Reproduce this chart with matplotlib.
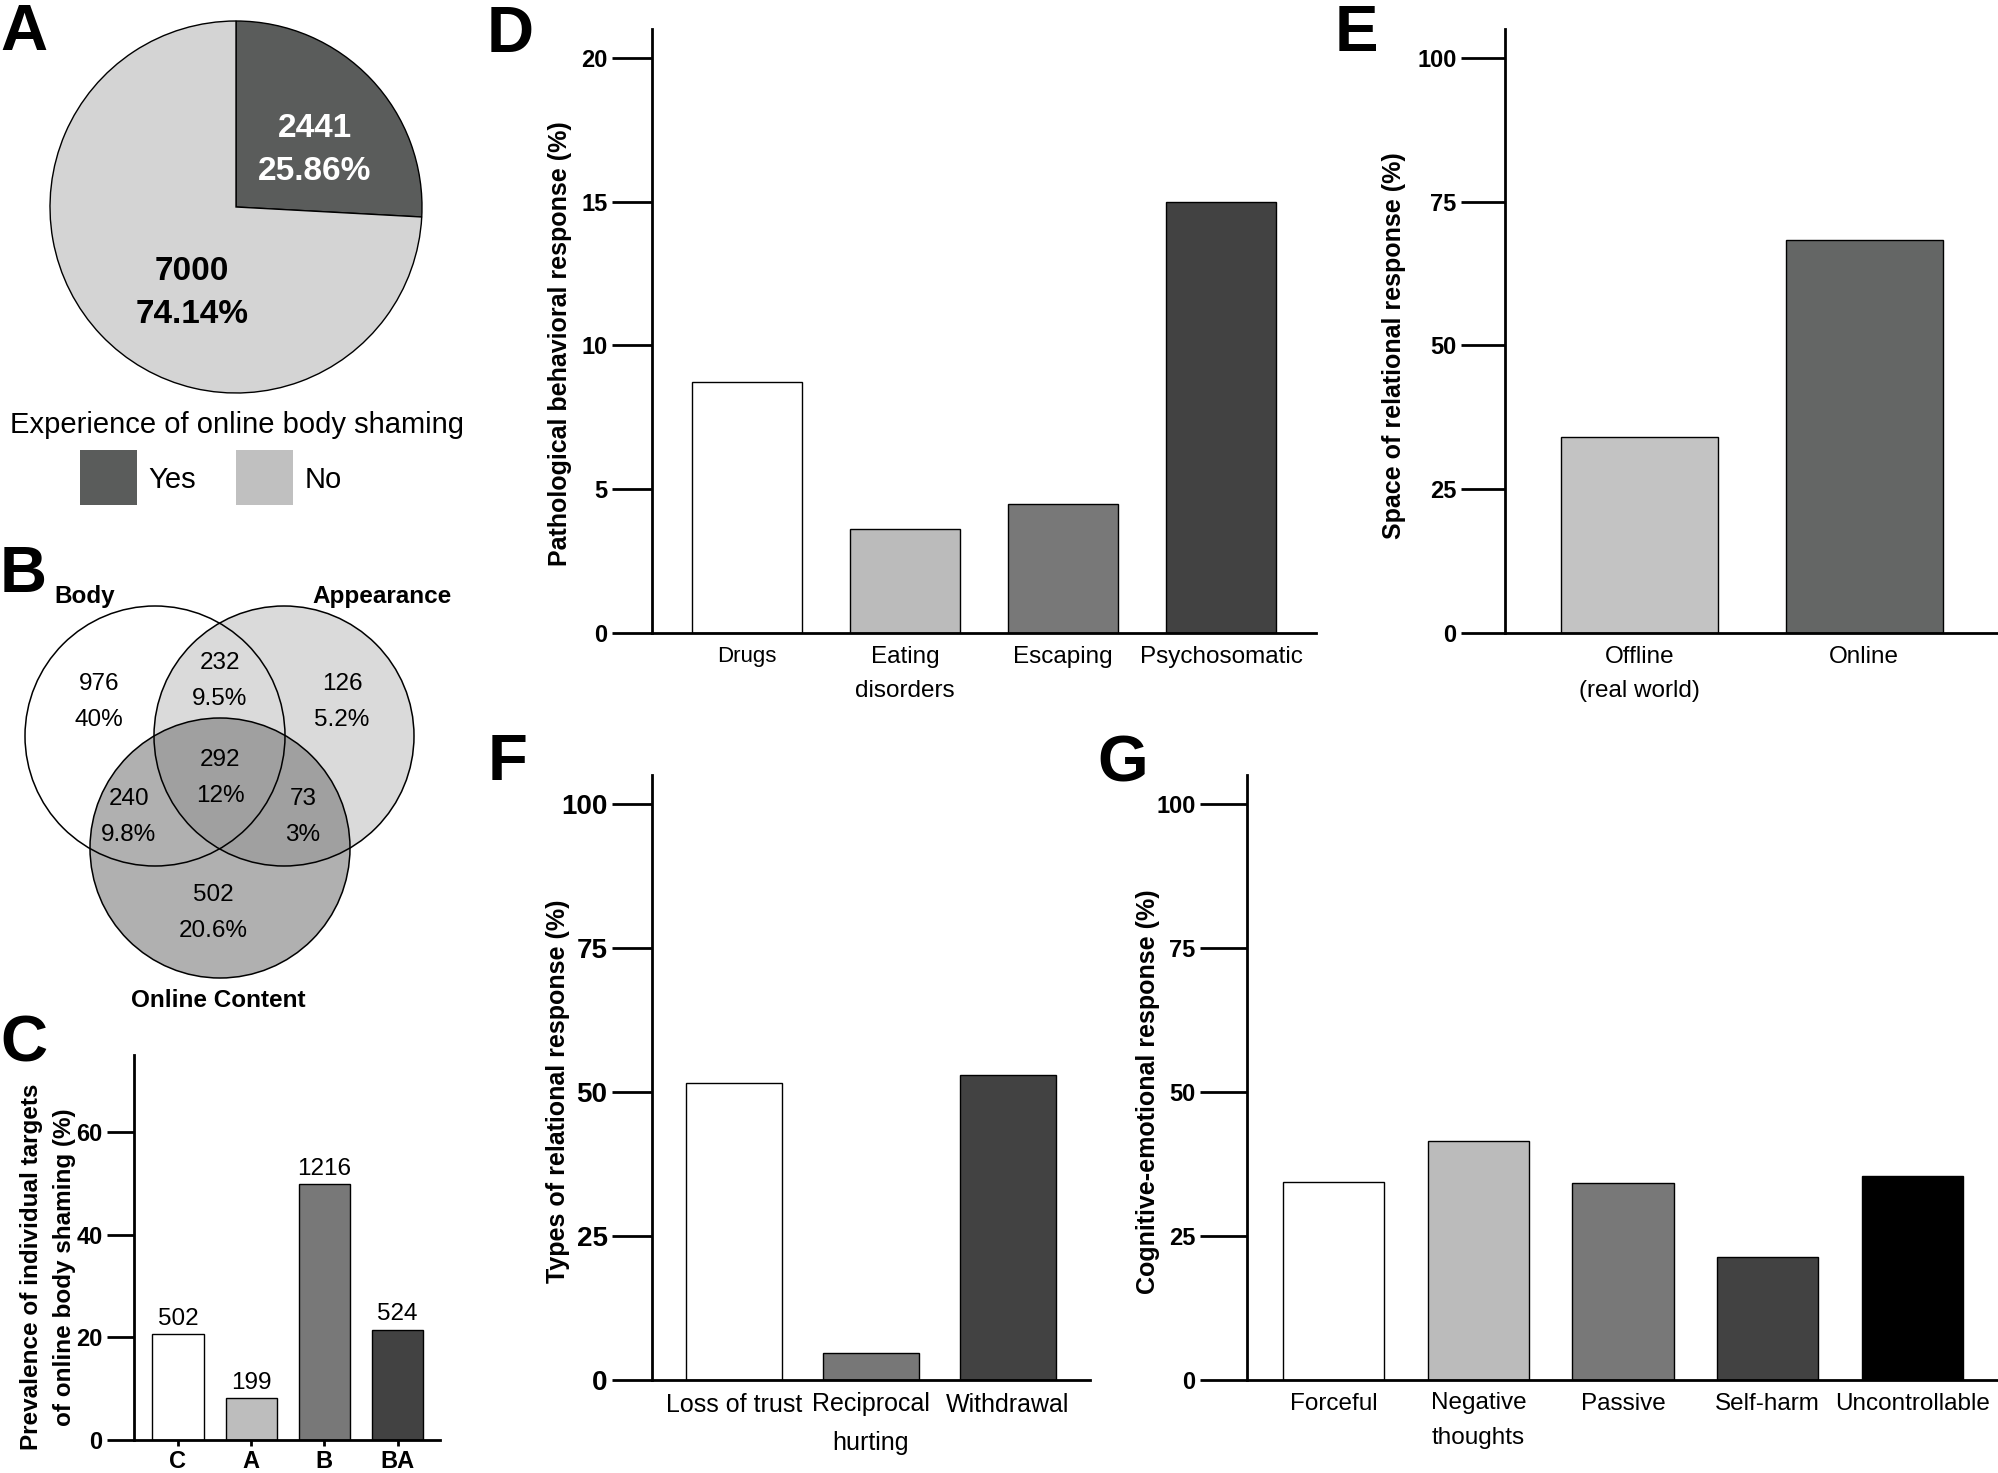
import matplotlib
matplotlib.use("Agg")
import matplotlib.pyplot as plt
from matplotlib.patches import Circle, Rectangle

# ---------------- data ----------------
pie_labels = ["Yes", "No"]
pie_counts = [2441, 7000]
pie_pcts = ["25.86%", "74.14%"]

venn_sets = ["Body", "Appearance", "Online Content"]
venn_counts = {"B": 976, "A": 126, "C": 502, "BA": 232, "BC": 240, "AC": 73, "BAC": 292}
venn_pcts = {"B": "40%", "A": "5.2%", "C": "20.6%", "BA": "9.5%", "BC": "9.8%", "AC": "3%", "BAC": "12%"}

c_cats = ["C", "A", "B", "BA"]
c_counts = [502, 199, 1216, 524]
c_pcts = [20.6, 8.2, 49.8, 21.5]

d_cats = ["Drugs", "Eating\ndisorders", "Escaping", "Psychosomatic"]
d_vals = [8.73, 3.63, 4.5, 15.0]

e_cats = ["Offline\n(real world)", "Online"]
e_vals = [34.1, 68.3]

f_cats = ["Loss of trust", "Reciprocal\nhurting", "Withdrawal"]
f_vals = [51.6, 4.6, 53.0]

g_cats = ["Forceful", "Negative\nthoughts", "Passive", "Self-harm", "Uncontrollable"]
g_vals = [34.4, 41.4, 34.2, 21.4, 35.4]

# ---------------- style ----------------
FAM = ["Liberation Sans", "DejaVu Sans"]
plt.rcParams["font.family"] = FAM

W, H = 1999, 1473
fig = plt.figure(figsize=(W / 100, H / 100), dpi=100)


def axes_px(x0, y0, x1, y1):
    # pixel box (top-left origin) -> figure axes
    return fig.add_axes([x0 / W, 1 - y1 / H, (x1 - x0) / W, (y1 - y0) / H])


def bar_panel(ax, cats, vals, colors, ylim, yticks, ticklen, ticksize, labsize):
    xs = list(range(len(cats)))
    bars = ax.bar(xs, vals, width=0.7, color=colors, edgecolor="black", linewidth=1.0)
    ax.set_xlim(-0.6, len(cats) - 0.4)
    ax.set_ylim(*ylim)
    ax.set_yticks(yticks)
    ax.set_xticks(xs)
    ax.set_xticklabels(cats, fontsize=labsize, linespacing=1.75)
    ax.set_yticklabels([str(t) for t in yticks], fontweight="bold", fontsize=ticksize)
    for s in ["top", "right"]:
        ax.spines[s].set_visible(False)
    for s in ["left", "bottom"]:
        ax.spines[s].set_linewidth(2)
    ax.tick_params(axis="y", length=ticklen, width=2, pad=3)
    ax.tick_params(axis="x", length=0, pad=9)
    ax.patch.set_alpha(0)
    return bars


def panel_letter(x, y, s):
    fig.text(x / W, 1 - y / H, s, fontsize=47, fontweight="bold",
             ha="left", va="baseline")


def ylabel_px(x, y, s, size, ls=1.2):
    fig.text(x / W, 1 - y / H, s, rotation=90, ha="center", va="center",
             fontweight="bold", fontsize=size, linespacing=ls,
             multialignment="center")


# ---------------- A: pie ----------------
ax_a = axes_px(50, 21, 422, 393)
ax_a.pie(pie_counts, colors=["#5a5c5b", "#d4d4d4"], startangle=90, counterclock=False,
         wedgeprops=dict(edgecolor="black", linewidth=1))
ax_a.set_xlim(-1, 1)
ax_a.set_ylim(-1, 1)
ax_a.set_aspect("equal")
ax_a.text(0.425, 0.305, f"{pie_counts[0]}\n{pie_pcts[0]}", ha="center", va="center",
          color="white", fontsize=24, fontweight="bold", linespacing=1.5)
ax_a.text(-0.237, -0.465, f"{pie_counts[1]}\n{pie_pcts[1]}", ha="center", va="center",
          color="black", fontsize=24, fontweight="bold", linespacing=1.5)

fig.text(237 / W, 1 - 433 / H, "Experience of online body shaming", ha="center",
         va="baseline", fontsize=21)
for (x0, lab, col, tx) in [(80, pie_labels[0], "#5a5c5b", 148), (236, pie_labels[1], "#c0c0c0", 305)]:
    fig.add_artist(Rectangle((x0 / W, 1 - 505 / H), 57 / W, 55 / H, transform=fig.transFigure,
                             facecolor=col, edgecolor="none"))
    fig.text(tx / W, 1 - 480 / H, lab, ha="left", va="center", fontsize=21)

panel_letter(0, 50, "A")

# ---------------- B: venn ----------------
ax_b = axes_px(0, 530, 480, 1000)
ax_b.set_xlim(0, 480)
ax_b.set_ylim(1000, 530)
ax_b.axis("off")
circ = {"B": (155, 736), "A": (284, 736), "C": (220, 848)}
R = 130
ax_b.add_patch(Circle(circ["A"], R, facecolor="#dadada", edgecolor="none"))
ax_b.add_patch(Circle(circ["C"], R, facecolor="#747474", alpha=0.57, edgecolor="none"))
for k in ["B", "A", "C"]:
    ax_b.add_patch(Circle(circ[k], R, facecolor="none", edgecolor="black", linewidth=1.1))

venn_pos = {"B": (99, 702), "BA": (220, 681), "A": (342, 702), "BAC": (220, 778),
            "BC": (129, 817), "AC": (303, 817), "C": (213, 913)}
for k, (x, y) in venn_pos.items():
    ax_b.text(x, y, f"{venn_counts[k]}\n{venn_pcts[k]}", ha="center", va="center",
              fontsize=17.5, linespacing=1.85)
ax_b.text(85, 603, venn_sets[0], ha="center", va="baseline", fontsize=17.5, fontweight="bold")
ax_b.text(382, 603, venn_sets[1], ha="center", va="baseline", fontsize=17.5, fontweight="bold")
ax_b.text(218, 1007, venn_sets[2], ha="center", va="baseline", fontsize=17.5, fontweight="bold")
panel_letter(0, 592, "B")

# ---------------- C ----------------
ax_c = axes_px(134, 1055, 440, 1440)
bars_c = bar_panel(ax_c, c_cats, c_pcts, ["white", "#bdbdbd", "#787878", "#424242"],
                   (0, 75), [0, 20, 40, 60], 19.5, 17, 17)
ax_c.set_xticklabels(c_cats, fontsize=17, fontweight="bold")
ax_c.set_xlim(-0.6, 3.58)
ax_c.tick_params(axis="x", length=4, width=2, pad=3)
ax_c.bar_label(bars_c, labels=[str(n) for n in c_counts], padding=3, fontsize=17.5)
ylabel_px(48, 1267, "Prevalence of individual targets\nof online body shaming (%)",
          17.5, ls=1.6)
panel_letter(0, 1062, "C")

# ---------------- D ----------------
ax_d = axes_px(652, 29, 1316, 633)
bar_panel(ax_d, d_cats, d_vals, ["white", "#bbbbbb", "#787878", "#424242"],
          (0, 21), [0, 5, 10, 15, 20], 29, 17, 17.5)
ax_d.get_xticklabels()[0].set_fontsize(16)
ylabel_px(560, 344, "Pathological behavioral response (%)", 18)
panel_letter(487, 52, "D")

# ---------------- E ----------------
ax_e = axes_px(1505, 29, 1999, 633)
bar_panel(ax_e, e_cats, e_vals, ["#c3c3c3", "#646665"],
          (0, 105), [0, 25, 50, 75, 100], 32, 17, 17.5)
ylabel_px(1394, 346, "Space of relational response (%)", 18)
panel_letter(1335, 51, "E")

# ---------------- F ----------------
ax_f = axes_px(652, 775, 1090, 1380)
bar_panel(ax_f, f_cats, f_vals, ["white", "#777777", "#424242"],
          (0, 105), [0, 25, 50, 75, 100], 29, 20, 18)
ylabel_px(558, 1091, "Types of relational response (%)", 18)
panel_letter(488, 780, "F")

# ---------------- G ----------------
ax_g = axes_px(1247, 775, 1999, 1380)
bar_panel(ax_g, g_cats, g_vals, ["white", "#bbbbbb", "#787878", "#424242", "#000000"],
          (0, 105), [0, 25, 50, 75, 100], 34, 17, 17.5)
ylabel_px(1148, 1092, "Cognitive-emotional response (%)", 18)
panel_letter(1097, 782, "G")

fig.savefig("out.png", dpi=100)
